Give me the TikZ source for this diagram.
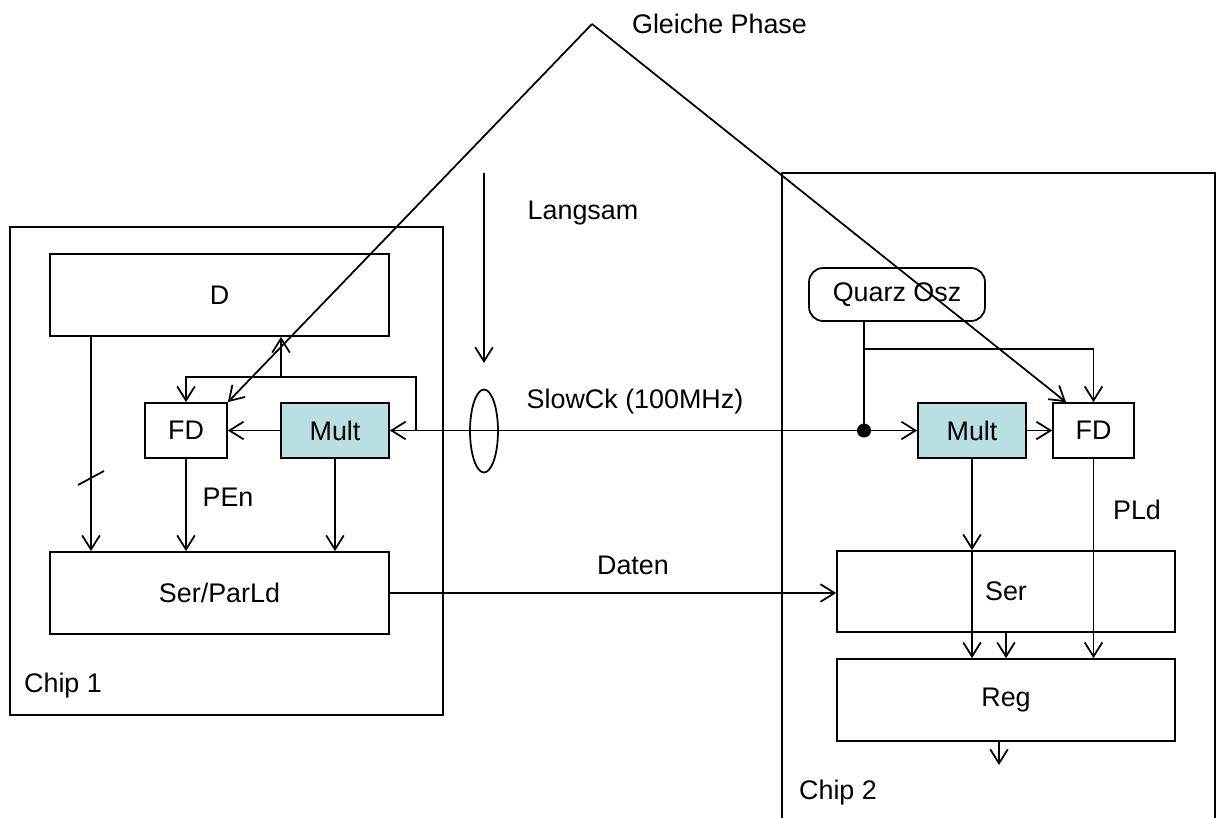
\documentclass[tikz,border=0pt]{standalone}
\usepackage{fontspec}
\setmainfont{Liberation Sans}
\usetikzlibrary{arrows.meta, shapes.geometric}
\definecolor{multfill}{RGB}{185,223,226}

\begin{document}
\begin{tikzpicture}[
    x=0.02cm, y=-0.02cm, line width=1pt, >={Straight Barb[length=8pt,width=10pt]},
    font=\fontsize{15.3}{18}\selectfont,
    block/.style={draw, inner sep=0pt, minimum height=1.1cm},
    mult/.style={block, fill=multfill, minimum width=2.16cm},
    chip/.style={draw, inner sep=0pt, minimum width=8.66cm}
]
    \clip (0,0) rectangle (1217,818);

    \node[chip, minimum height=9.76cm] (chipA) at (226.5,471) {};
    \node[chip, minimum height=13.52cm] (chipB) at (998.5,511) {};
    \node (chipAlbl) at (63,686) {Chip 1};
    \node (chipBlbl) at (838,793) {Chip 2};

    \node[block, minimum width=6.78cm, minimum height=1.64cm] (D) at (219.5,295) {D};
    \node[block, minimum width=1.64cm] (FDa) at (186,430.5) {FD};
    \node[mult] (Multa) at (335,430.5) {Mult};
    \node[block, minimum width=6.78cm, minimum height=1.64cm] (SerPar) at (219.5,593) {Ser/ParLd};

    \node[block, rounded corners=8pt, minimum width=3.52cm, minimum height=1.06cm] (Quarz) at (897,294.5) {Quarz Osz};
    \node[mult] (Multb) at (972,430.5) {Mult};
    \node[block, minimum width=1.62cm] (FDb) at (1093.5,430.5) {FD};
    \node[block, minimum width=6.76cm, minimum height=1.62cm] (Ser) at (1006,591.5) {Ser};
    \node[block, minimum width=6.76cm, minimum height=1.64cm] (Reg) at (1006,700) {Reg};

    \node[draw, ellipse, inner sep=0pt, minimum width=0.56cm, minimum height=1.66cm] (bundle) at (484,431) {};

    \coordinate (tap) at (864,430.5);
    \coordinate (fb) at (416,430.5);
    \coordinate (peak) at (592,24);
    \coordinate (slowtop) at (484,173);
    \coordinate (slowend) at (484,363);
    \coordinate (regout) at (999,765);

    % Chip 1
    \draw[->] (91,0 |- D.south) -- (91,0 |- SerPar.north);
    \draw (78,485) -- (104,471);
    \draw[->] (FDa.south) -- (FDa.south |- SerPar.north);
    \node at (228,497) {PEn};
    \draw[->] (Multa.south) -- (Multa.south |- SerPar.north);
    \draw[->] (Multa) -- (FDa);
    \draw[->] (fb) -- (416,377) -| (FDa.north);
    \draw[->] (281,377) -- (281,0 |- D.south);

    % clock
    \draw[->] (tap) -- (Multa.east);
    \draw[->] (tap) -- (Multb.west);
    \fill (tap) circle[radius=7];
    \draw (tap |- Quarz.south) -- (tap);
    \draw[->] (tap |- 0,349) -| (FDb.north);
    \node at (635,402) {SlowCk (100MHz)};
    \draw[->] (slowtop) -- (slowend);
    \node at (583,213) {Langsam};

    % Chip 2
    \draw[->] (Multb) -- (FDb);
    \draw[->] (Multb.south) -- (Multb.south |- Ser.north);
    \draw[->] (Multb.south |- Ser.north) -- (Multb.south |- Reg.north);
    \draw[->] (Ser.south) -- (Reg.north);
    \draw[->] (FDb.south) -- (FDb.south |- Reg.north);
    \node at (1137,510) {PLd};
    \draw[->] (regout |- Reg.south) -- (regout);

    \draw[->] (SerPar.east) -- (Ser.west |- SerPar.east);
    \node at (633,565) {Daten};

    % phase
    \draw[->] (peak) -- (FDa.north east);
    \draw[->] (peak) -- (1066,0 |- FDb.north);
    \node at (719.5,24) {Gleiche Phase};
\end{tikzpicture}
\end{document}
